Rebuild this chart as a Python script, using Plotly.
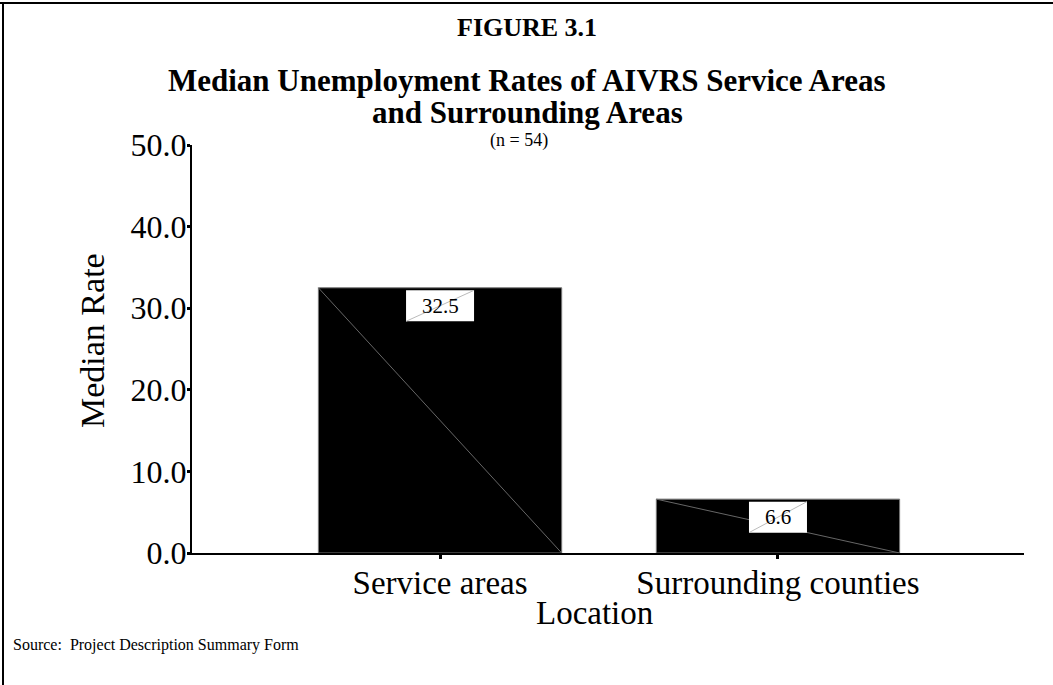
import plotly.graph_objects as go

categories = ["Service areas", "Surrounding counties"]
median_rates = [32.5, 6.6]
value_labels = ["32.5", "6.6"]
y_ticks = [0, 10, 20, 30, 40, 50]
y_tick_labels = ["0.0", "10.0", "20.0", "30.0", "40.0", "50.0"]

W, H = 1053, 685
L, R, T, B = 192, 29, 145, 132
PW, PH = W - L - R, H - T - B
XR = [-0.734, 1.728]
YR = [0, 50]
BAR_W = 0.72
FONT = "Liberation Serif, Times New Roman, serif"


def px_x(px):
    return (px - L) / PW


def px_y(py):
    return (H - B - py) / PH


xs = list(range(len(categories)))
ppx = PW / (XR[1] - XR[0])
ppy = PH / (YR[1] - YR[0])

fig = go.Figure()
fig.add_trace(go.Bar(
    x=xs, y=median_rates, width=BAR_W,
    marker=dict(color="black", line=dict(color="#777", width=1)),
    hoverinfo="skip",
))

shapes = []
annotations = []
for xi, v, lab in zip(xs, median_rates, value_labels):
    x0, x1 = xi - BAR_W / 2, xi + BAR_W / 2
    shapes.append(dict(type="line", x0=x0, y0=v, x1=x1, y1=0, xref="x", yref="y",
                       line=dict(color="#666", width=1), layer="above"))
    tw = sum(10 if c.isdigit() else 5 for c in lab) + 33
    bw = tw / ppx
    top = v - 2.5 / ppy
    bh = 31 / ppy
    shapes.append(dict(type="rect", x0=xi - bw / 2, x1=xi + bw / 2, y0=top - bh, y1=top,
                       xref="x", yref="y", fillcolor="white", line=dict(width=0), layer="above"))
    shapes.append(dict(type="line", x0=xi - bw / 2, y0=top - bh, x1=xi + bw / 2, y1=top,
                       xref="x", yref="y", line=dict(color="#bbb", width=1), layer="above"))
    annotations.append(dict(x=xi, y=top - bh / 2, xref="x", yref="y", text=lab, showarrow=False,
                            font=dict(family=FONT, size=21, color="black"), xanchor="center",
                            yanchor="middle"))

shapes.append(dict(type="line", xref="paper", yref="paper", x0=px_x(0), x1=px_x(W),
                   y0=px_y(3), y1=px_y(3), line=dict(color="black", width=2)))
shapes.append(dict(type="line", xref="paper", yref="paper", x0=px_x(3), x1=px_x(3),
                   y0=px_y(3), y1=px_y(H), line=dict(color="black", width=2)))

texts = [
    ("<b>FIGURE 3.1</b>", 527, 28, 26),
    ("<b>Median Unemployment Rates of AIVRS Service Areas</b>", 527, 81, 31),
    ("<b>and Surrounding Areas</b>", 527, 112, 31),
    ("(n = 54)", 519, 140, 18),
]
for t, x, y, s in texts:
    annotations.append(dict(text=t, x=px_x(x), y=px_y(y), xref="paper", yref="paper",
                            showarrow=False, xanchor="center", yanchor="middle",
                            font=dict(family=FONT, size=s, color="black")))
annotations.append(dict(text="Source:  Project Description Summary Form", x=px_x(11), y=px_y(645),
                        xref="paper", yref="paper", showarrow=False, xanchor="left",
                        yanchor="middle", font=dict(family=FONT, size=16, color="black")))
annotations.append(dict(text="Location", x=px_x(594), y=px_y(613), xref="paper", yref="paper",
                        showarrow=False, xanchor="center", yanchor="middle",
                        font=dict(family=FONT, size=33, color="black")))
annotations.append(dict(text="Median Rate", x=px_x(92), y=px_y(341), xref="paper", yref="paper",
                        showarrow=False, xanchor="center", yanchor="middle", textangle=-90,
                        font=dict(family=FONT, size=34, color="black")))

fig.update_layout(
    width=W, height=H,
    margin=dict(l=L, r=R, t=T, b=B, pad=0),
    paper_bgcolor="white", plot_bgcolor="white",
    showlegend=False,
    shapes=shapes, annotations=annotations,
    font=dict(family=FONT, color="black"),
    xaxis=dict(
        range=XR, tickmode="array", tickvals=xs, ticktext=categories,
        showgrid=False, zeroline=False, showline=True, linecolor="black", linewidth=2,
        ticks="outside", ticklen=4, tickwidth=3, tickcolor="black",
        tickfont=dict(family=FONT, size=33), ticklabelstandoff=-5,
    ),
    yaxis=dict(
        range=YR, tickmode="array", tickvals=y_ticks, ticktext=y_tick_labels,
        showgrid=False, zeroline=False, showline=True, linecolor="black", linewidth=2,
        ticks="outside", ticklen=3, tickwidth=3, tickcolor="black",
        tickfont=dict(family=FONT, size=32), ticklabelstandoff=-6,
    ),
)

fig.write_html("out.html", config={"displayModeBar": False},
               post_script="document.body.style.margin='0';document.body.style.padding='0';")
